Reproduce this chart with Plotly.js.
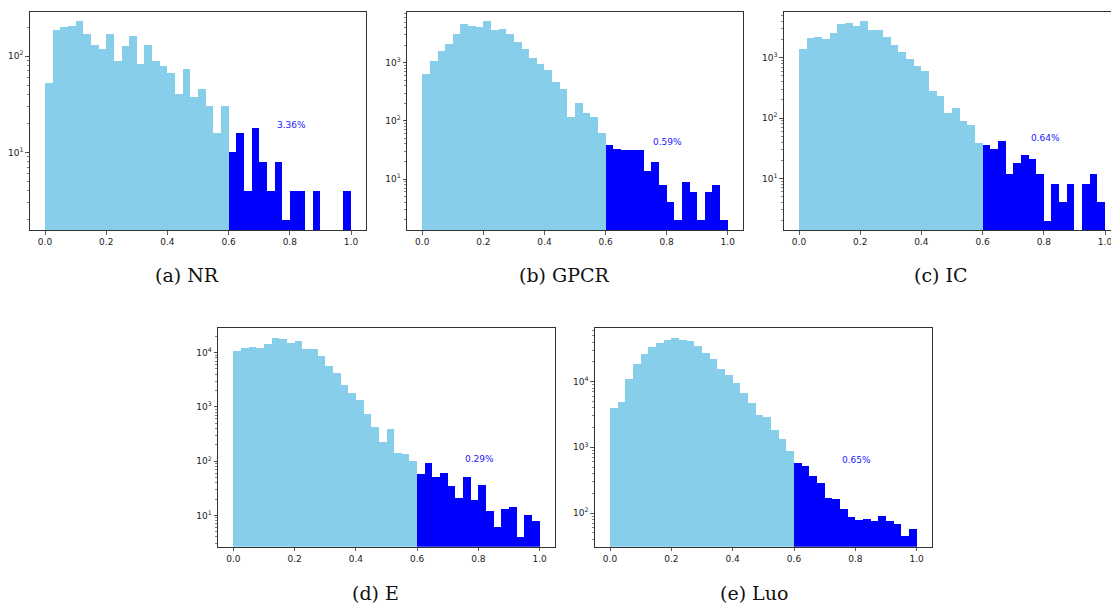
<!DOCTYPE html>
<html>
<head>
<meta charset="utf-8">
<script src="https://cdn.plot.ly/plotly-3.0.1.min.js"></script>
<style>
  html, body { margin: 0; padding: 0; background: #fff; overflow: hidden; }
  #chart { width: 1130px; height: 605px; }
</style>
</head>
<body>
<div id="chart"></div>
<script>
// ---- data ----
const BIN_LEFT = [0.000,0.025,0.050,0.075,0.100,0.125,0.150,0.175,0.200,0.225,
                  0.250,0.275,0.300,0.325,0.350,0.375,0.400,0.425,0.450,0.475,
                  0.500,0.525,0.550,0.575,0.600,0.625,0.650,0.675,0.700,0.725,
                  0.750,0.775,0.800,0.825,0.850,0.875,0.900,0.925,0.950,0.975];
const BIN_WIDTH = 0.025;
const THRESHOLD = 0.6;

const NR_COUNTS   = [52,186,201,206,229,168,130,117,168,88,127,160,83,131,89,79,66,40,73,38,45,30,16,30,
                     10,16,4,18,8,4,8,2,4,4,0,4,0,0,0,4];
const GPCR_COUNTS = [638,1068,1607,2066,3069,4620,4330,4105,5135,3650,3850,3110,2240,1718,1188,949,748,459,348,115,203,136,115,63,
                     38,33,31,32,32,14,20,8,4,2,9,6,2,6,8,2];
const IC_COUNTS   = [1410,2142,2172,2064,2564,3614,3757,3390,4000,2838,2910,2200,1623,1257,962,727,601,284,234,121,145,89,77,38,
                     36,31,41,12,18,24,21,12,2,8,4,8,0,8,12,4];
const E_COUNTS    = [10730,12370,12720,12020,14450,18380,17620,15280,16400,11690,11520,8680,5600,4160,2535,1780,1322,740,432,225,386,139,135,102,
                     59,94,51,60,35,21,50,19,37,12,6,13,14,4,10,8];
const LUO_COUNTS  = [3926,4900,10850,18800,26700,34100,38800,42600,45700,43100,41100,34900,27300,22400,15800,12500,9440,6640,4790,3100,2860,1815,1324,869,
                     570,526,366,283,171,163,116,87,79,81,75,91,75,68,44,57];

const CAPTIONS = ['(a) NR','(b) GPCR','(c) IC','(d) E','(e) Luo'];
const PERCENTS = ['3.36%','0.59%','0.64%','0.29%','0.65%'];
const X_TICKS = [0,0.2,0.4,0.6,0.8,1.0];

// ---- layout config (positions in px) ----
const W = 1130, H = 605;
const panels = [
  {counts: NR_COUNTS,   x0: 29.7, x1: 366.3, y0: 11.7, y1: 230,   yr: [0.194, 2.46],  ydec: [1,2],     lab: {x: 0.75, y: 19.2}, cap: {x: 187, y: 275}},
  {counts: GPCR_COUNTS, x0: 407,  x1: 743,   y0: 11.7, y1: 230,   yr: [0.123, 3.877], ydec: [1,2,3],   lab: {x: 0.75, y: 43.8}, cap: {x: 564, y: 275}},
  {counts: IC_COUNTS,   x0: 783.7,x1: 1120.3,y0: 11.7, y1: 230,   yr: [0.144, 3.762], ydec: [1,2,3],   lab: {x: 0.75, y: 47.2}, cap: {x: 941, y: 275}},
  {counts: E_COUNTS,    x0: 218,  x1: 555,   y0: 328.3,y1: 546.7, yr: [0.423, 4.449], ydec: [1,2,3,4], lab: {x: 0.75, y: 108},  cap: {x: 375, y: 593}},
  {counts: LUO_COUNTS,  x0: 594.7,x1: 932,   y0: 328.3,y1: 546.7, yr: [1.487, 4.812], ydec: [2,3,4],   lab: {x: 0.75, y: 641},  cap: {x: 754, y: 593}}
];

const LIGHT = '#87CEEB', DARK = '#0000FF';
const AXCOL = '#333333';
const traces = [];
const layout = {
  width: W, height: H,
  margin: {l: 0, r: 0, t: 0, b: 0},
  paper_bgcolor: '#fff', plot_bgcolor: '#fff',
  showlegend: false,
  bargap: 0,
  barmode: 'overlay',
  font: {family: 'DejaVu Sans', size: 9, color: '#222'},
  annotations: []
};

panels.forEach((p, i) => {
  const n = i + 1;
  const xa = 'x' + (n === 1 ? '' : n), ya = 'y' + (n === 1 ? '' : n);
  const lowX = [], lowY = [], highX = [], highY = [];
  BIN_LEFT.forEach((b, k) => {
    const c = p.counts[k] > 0 ? p.counts[k] : null;
    if (b < THRESHOLD - 1e-9) { lowX.push(b + BIN_WIDTH / 2); lowY.push(c); }
    else { highX.push(b + BIN_WIDTH / 2); highY.push(c); }
  });
  traces.push({type: 'bar', x: lowX, y: lowY, width: BIN_WIDTH, xaxis: xa, yaxis: ya,
    marker: {color: LIGHT, line: {width: 0}}, hoverinfo: 'x+y'});
  traces.push({type: 'bar', x: highX, y: highY, width: BIN_WIDTH, xaxis: xa, yaxis: ya,
    marker: {color: DARK, line: {width: 0}}, hoverinfo: 'x+y'});

  const xk = 'xaxis' + (n === 1 ? '' : n), yk = 'yaxis' + (n === 1 ? '' : n);
  layout[xk] = {
    domain: [p.x0 / W, p.x1 / W], anchor: ya,
    range: [-0.05, 1.05], tickvals: X_TICKS, tickformat: '.1f',
    ticks: 'outside', ticklen: 3.5, tickwidth: 0.8, tickcolor: AXCOL,
    showline: true, mirror: true, linecolor: AXCOL, linewidth: 1,
    showgrid: false, zeroline: false, fixedrange: true,
    tickfont: {family: 'DejaVu Sans', size: 9, color: '#222'}
  };
  layout[yk] = {
    domain: [1 - p.y1 / H, 1 - p.y0 / H], anchor: xa,
    type: 'log', range: p.yr,
    tickvals: p.ydec.map(d => Math.pow(10, d)),
    ticktext: p.ydec.map(d => '10<sup>' + d + '</sup>'),
    ticks: 'outside', ticklen: 3.5, tickwidth: 0.8, tickcolor: AXCOL,
    minor: {ticks: 'outside', ticklen: 2, tickwidth: 0.6, tickcolor: AXCOL, dtick: 'D1', showgrid: false},
    showline: true, mirror: true, linecolor: AXCOL, linewidth: 1,
    showgrid: false, zeroline: false, fixedrange: true,
    tickfont: {family: 'DejaVu Sans', size: 9, color: '#222'}
  };
  layout.annotations.push({
    xref: xa, yref: ya, x: p.lab.x, y: Math.log10(p.lab.y),
    text: PERCENTS[i], showarrow: false, xanchor: 'left', yanchor: 'middle',
    font: {family: 'DejaVu Sans', size: 9, color: '#1a1aff'}
  });
  layout.annotations.push({
    xref: 'paper', yref: 'paper', x: p.cap.x / W, y: 1 - p.cap.y / H,
    text: CAPTIONS[i], showarrow: false, xanchor: 'center', yanchor: 'middle',
    font: {family: 'DejaVu Serif', size: 19, color: '#111'}
  });
});

Plotly.newPlot('chart', traces, layout, {displayModeBar: false, staticPlot: true});
</script>
</body>
</html>
